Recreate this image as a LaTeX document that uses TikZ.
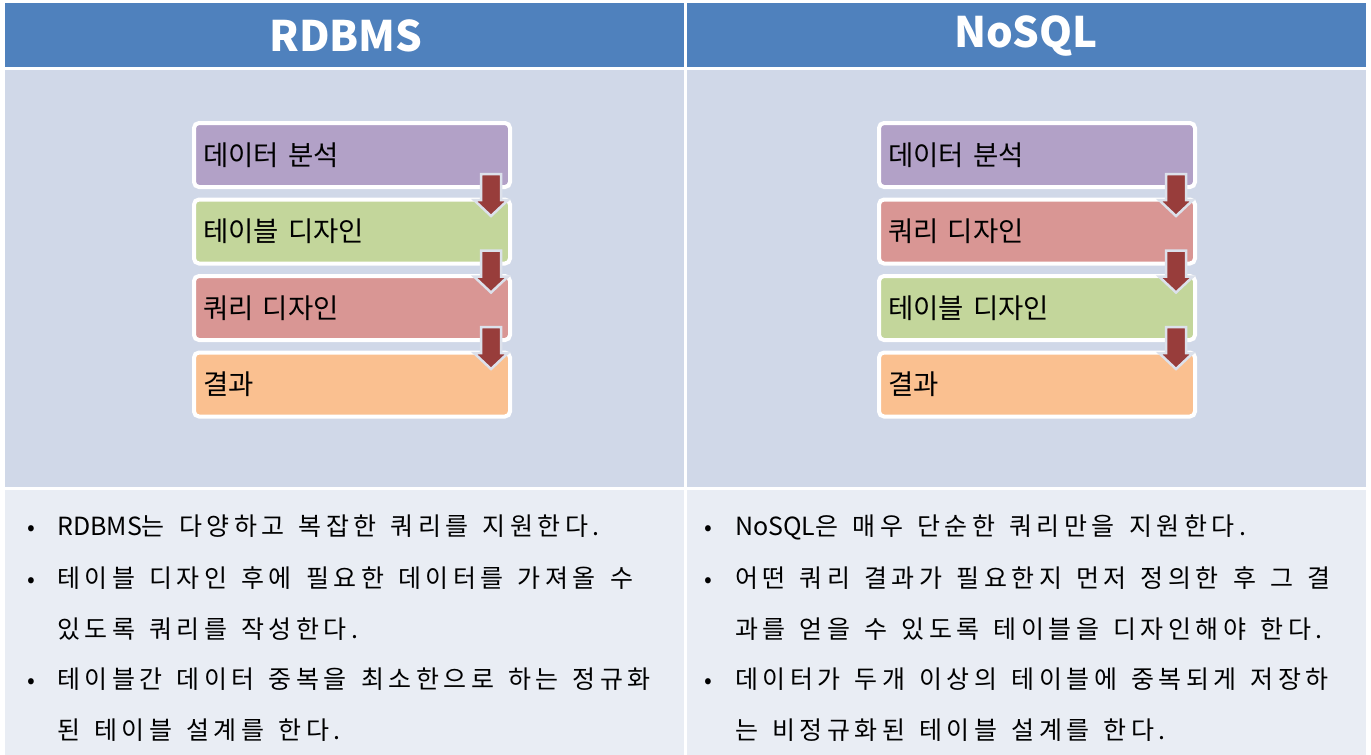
\documentclass[tikz,border=0pt]{standalone}
\usepackage{fontspec}
\setmainfont{Noto Sans CJK KR}
\newfontfamily\bulfont[LetterSpace=18,WordSpace=1.4]{Noto Sans CJK KR}
\newfontfamily\latfont[WordSpace=1.4]{Noto Sans CJK KR}
\usetikzlibrary{calc}
\definecolor{hdr}{HTML}{4F81BD}
\definecolor{midbg}{HTML}{D0D8E8}
\definecolor{botbg}{HTML}{E9EDF4}
\definecolor{cpurple}{HTML}{B2A1C7}
\definecolor{cgreen}{HTML}{C3D69B}
\definecolor{cred}{HTML}{D99694}
\definecolor{corange}{HTML}{FAC090}
\definecolor{arrfill}{HTML}{983D3B}
\definecolor{arredge}{HTML}{DCE1EB}
\begin{document}
\begin{tikzpicture}[x=1pt,y=-1pt,
  stepbox/.style={draw=white, line width=4pt, rounded corners=5pt,
    minimum width=316pt, minimum height=64pt, text width=298pt,
    inner xsep=9pt, inner ysep=0pt, anchor=north west, align=left,
    font=\fontsize{27.5}{32}\selectfont},
  hdrtext/.style={text=white, font=\fontsize{42}{48}\selectfont\bfseries},
  bultext/.style={anchor=base west, inner sep=0pt, font=\fontsize{25}{30}\bulfont},
  bulmark/.style={anchor=base, inner sep=0pt, font=\fontsize{23}{28}\selectfont},
  downarrow/.pic={\draw[draw=arredge, fill=arrfill, line width=2.5pt, line join=miter]
     (-10,0) -- (10,0) -- (10,26) -- (17,26) -- (0,42) -- (-17,26) -- (-10,26) -- cycle;}
]
\useasboundingbox (0,0) rectangle (1371,755);
\fill[white] (0,0) rectangle (1371,755);
% cells
\fill[hdr] (5,3) rectangle (684,67);
\fill[hdr] (687,3) rectangle (1366,67);
\fill[midbg] (5,70) rectangle (684,487);
\fill[midbg] (687,70) rectangle (1366,487);
\fill[botbg] (5,490) rectangle (684,755);
\fill[botbg] (687,490) rectangle (1366,755);
% headers
\node[hdrtext] (hl) at (346,36) {RDBMS};
\node[hdrtext] (hr) at (1026,36) {NoSQL};
% left flow
\node[stepbox, fill=cpurple] (l1) at (192,121) {데이터 분석};
\node[stepbox, fill=cgreen]  (l2) at (192,197.5) {테이블 디자인};
\node[stepbox, fill=cred]    (l3) at (192,274) {쿼리 디자인};
\node[stepbox, fill=corange] (l4) at (192,350.5) {결과};
% right flow
\node[stepbox, fill=cpurple] (r1) at (877,121) {데이터 분석};
\node[stepbox, fill=cred]    (r2) at (877,197.5) {쿼리 디자인};
\node[stepbox, fill=cgreen]  (r3) at (877,274) {테이블 디자인};
\node[stepbox, fill=corange] (r4) at (877,350.5) {결과};
% arrows
\foreach \b in {l1,l2,l3,r1,r2,r3}
  \pic at ($(\b.south east)+(-21,-15)$) {downarrow};
% left bullets
\node[bulmark] (lb1) at (31,535) {•};
\node[bultext] (lt1) at (57,535) {{\latfont RDBMS}는 다양하고 복잡한 쿼리를 지원한다.};
\node[bulmark] (lb2) at (31,587) {•};
\node[bultext] (lt2) at (57,587) {테이블 디자인 후에 필요한 데이터를 가져올 수};
\node[bultext] (lt3) at (57,638) {있도록 쿼리를 작성한다.};
\node[bulmark] (lb4) at (31,688) {•};
\node[bultext] (lt4) at (57,688) {테이블간 데이터 중복을 최소한으로 하는 정규화};
\node[bultext] (lt5) at (57,739) {된 테이블 설계를 한다.};
% right bullets
\node[bulmark] (rb1) at (708,535) {•};
\node[bultext] (rt1) at (735,535) {{\latfont NoSQL}은 매우 단순한 쿼리만을 지원한다.};
\node[bulmark] (rb2) at (708,587) {•};
\node[bultext] (rt2) at (735,587) {어떤 쿼리 결과가 필요한지 먼저 정의한 후 그 결};
\node[bultext] (rt3) at (735,638) {과를 얻을 수 있도록 테이블을 디자인해야 한다.};
\node[bulmark] (rb4) at (708,688) {•};
\node[bultext] (rt4) at (735,688) {데이터가 두개 이상의 테이블에 중복되게 저장하};
\node[bultext] (rt5) at (735,739) {는 비정규화된 테이블 설계를 한다.};
\end{tikzpicture}
\end{document}
